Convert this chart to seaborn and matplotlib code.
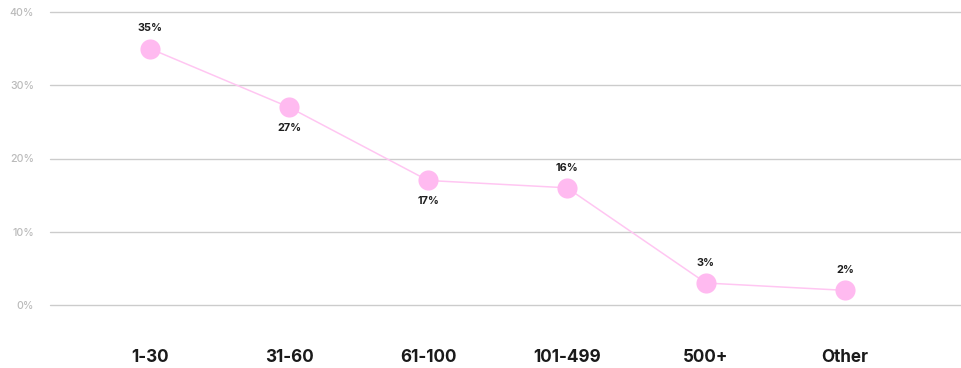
import matplotlib
matplotlib.use("Agg")
import matplotlib.pyplot as plt
import seaborn as sns
import pandas as pd

# Share of respondents by group size
categories = ["1-30", "31-60", "61-100", "101-499", "500+", "Other"]
shares = [35, 27, 17, 16, 3, 2]
label_above = [True, False, False, True, True, True]
y_ticks = [0, 10, 20, 30, 40]

sns.set_theme(style="white")
plt.rcParams["font.family"] = ["Inter", "DejaVu Sans"]

df = pd.DataFrame({"group": categories, "share": shares, "pos": range(len(categories))})

W, H = 961, 368
fig = plt.figure(figsize=(W / 100, H / 100), dpi=100)
# axes: left edge at grid start, bottom at the 0% line, top at the 40% line
left, right = 50, 961
bottom_px, top_px = 305, 12
ax = fig.add_axes([left / W, (H - bottom_px) / H, (right - left) / W, (bottom_px - top_px) / H])

pink_line = "#ffc6f2"
pink_dot = "#ffbaf0"

sns.lineplot(data=df, x="pos", y="share", ax=ax, color=pink_line, linewidth=1.1,
             marker="o", markersize=14.5, markerfacecolor=pink_dot,
             markeredgecolor=pink_dot, markeredgewidth=0, clip_on=False, zorder=3)

for x, v, up in zip(df["pos"], shares, label_above):
    ax.annotate(f"{v}%", (x, v), xytext=(0, 14.5 if up else -15), textcoords="offset points",
                ha="center", va="center", fontsize=7.8, fontweight="bold", color="#1e1e1e")

ax.set_xlim(-0.72, 5.835)
ax.set_ylim(0, 40)
ax.set_yticks(y_ticks)
ax.set_yticklabels([f"{t}%" for t in y_ticks])
ax.set_xticks(list(df["pos"]))
ax.set_xticklabels(categories)
ax.set_xlabel("")
ax.set_ylabel("")

ax.grid(axis="y", color="#cccccc", linewidth=1.0, clip_on=False)
ax.grid(axis="x", visible=False)
for s in ax.spines.values():
    s.set_visible(False)

ax.tick_params(axis="y", length=0, pad=11.5, labelsize=7.6, labelcolor="#bababa")
ax.tick_params(axis="x", length=0, pad=31.5, labelsize=12.3, labelcolor="#1a1a1a")
for t in ax.get_xticklabels():
    t.set_fontweight("bold")
for t in ax.get_yticklabels():
    t.set_fontweight("medium")

fig.savefig("out.png", dpi=100)
